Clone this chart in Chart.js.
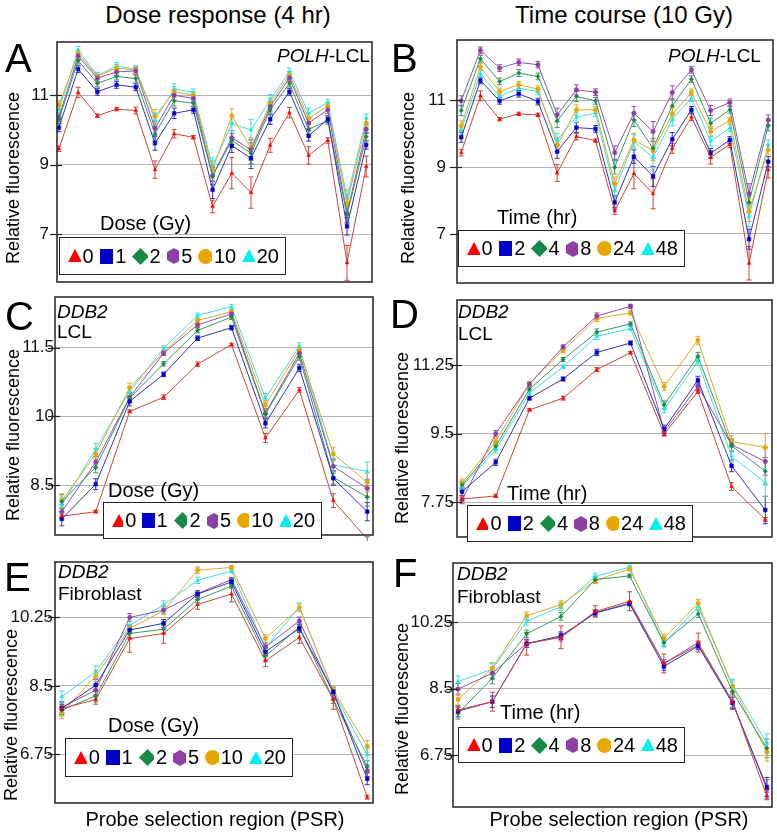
<!DOCTYPE html>
<html lang="en">
  <head>
    <meta charset="UTF-8" />
    <title>POLH and DDB2 probe selection regions</title>
    <script src="https://cdn.jsdelivr.net/npm/chart.js"></script>
    <style>
      body { margin: 0; background: #fff; font-family: "Liberation Sans", Arial, sans-serif; }
      #page { position: relative; width: 777px; height: 836px; overflow: hidden; }
      canvas { position: absolute; }
      .txt { position: absolute; white-space: nowrap; line-height: 1; color: #000; }
      .ytitle { position: absolute; white-space: nowrap; font-size: 18px; line-height: 1;
                transform: translate(-50%, -50%) rotate(-90deg); }
      .legend { position: absolute; background: #fff; border: 1.5px solid #222; box-sizing: border-box;
                display: flex; align-items: center; padding-left: 8px; font-size: 20px; }
      .legend svg { margin-right: 2px; }
      .legend span { margin-right: 6px; }
    </style>
  </head>
  <body>
    <div id="page"></div>
    <script>
      // series keys / legend labels
      const doseLabels = ["0", "1", "2", "5", "10", "20"];
      const timeLabels = ["0", "2", "4", "8", "24", "48"];

      // A: POLH-LCL, dose response (17 PSRs)
      const polhDose0 = [9.46, 11.08, 10.41, 10.6, 10.56, 8.86, 9.89, 9.79, 7.8, 8.76, 8.2, 9.56, 10.5, 9.27, 9.7, 6.18, 8.95];
      const polhDose1 = [10.07, 11.75, 11.1, 11.3, 11.23, 9.62, 10.48, 10.58, 8.28, 9.55, 9.19, 10.31, 11.1, 9.83, 10.31, 7.23, 9.57];
      const polhDose2 = [10.3, 12.0, 11.34, 11.54, 11.48, 9.89, 10.84, 10.77, 8.67, 9.7, 9.33, 10.58, 11.34, 10.02, 10.27, 7.56, 9.81];
      const polhDose5 = [10.37, 12.13, 11.49, 11.67, 11.7, 10.05, 11.0, 10.91, 8.69, 9.78, 9.43, 10.67, 11.5, 10.2, 10.58, 7.6, 10.02];
      const polhDose10 = [10.72, 12.2, 11.54, 11.78, 11.72, 10.39, 11.1, 11.0, 8.86, 10.41, 9.48, 10.77, 11.58, 10.34, 10.69, 7.9, 10.2];
      const polhDose20 = [10.58, 12.3, 11.56, 11.84, 11.75, 10.29, 11.18, 11.08, 8.95, 10.18, 10.0, 10.87, 11.68, 10.48, 10.79, 8.04, 10.34];
      const polhDoseErr0 = [0.08, 0.15, 0.05, 0.05, 0.1, 0.25, 0.12, 0.05, 0.18, 0.45, 0.45, 0.2, 0.15, 0.25, 0.08, 0.5, 0.3];
      const polhDoseErr = [0.12, 0.1, 0.1, 0.1, 0.1, 0.2, 0.15, 0.1, 0.25, 0.2, 0.3, 0.15, 0.1, 0.15, 0.1, 0.25, 0.12];

      // B: POLH-LCL, time course
      const polhTime0 = [9.43, 11.13, 10.43, 10.59, 10.56, 8.82, 9.91, 9.79, 7.69, 8.8, 8.2, 9.56, 10.49, 9.29, 9.68, 6.12, 8.92];
      const polhTime2 = [9.89, 11.59, 10.98, 11.19, 10.96, 9.46, 10.18, 10.14, 7.94, 9.31, 8.72, 9.83, 10.71, 9.41, 9.81, 6.84, 9.16];
      const polhTime4 = [10.69, 12.24, 11.56, 11.81, 11.71, 10.38, 11.11, 10.98, 8.99, 10.41, 9.56, 10.83, 11.63, 10.31, 10.71, 7.94, 10.23];
      const polhTime8 = [10.98, 12.49, 11.96, 12.13, 12.06, 10.56, 11.31, 11.24, 9.43, 10.61, 10.06, 11.23, 11.91, 10.69, 10.93, 8.2, 10.41];
      const polhTime24 = [10.23, 11.99, 11.26, 11.46, 11.33, 9.66, 10.71, 10.71, 8.5, 9.81, 9.49, 10.58, 11.23, 10.06, 10.39, 7.67, 9.51];
      const polhTime48 = [10.11, 11.79, 11.11, 11.36, 11.26, 9.81, 10.49, 10.61, 8.3, 9.76, 9.28, 10.43, 11.06, 9.78, 10.16, 7.52, 9.66];
      const polhTimeErr0 = [0.1, 0.15, 0.05, 0.05, 0.05, 0.25, 0.1, 0.05, 0.1, 0.45, 0.45, 0.15, 0.1, 0.2, 0.1, 0.5, 0.25];
      const polhTimeErr = [0.15, 0.1, 0.1, 0.1, 0.1, 0.2, 0.15, 0.1, 0.2, 0.2, 0.3, 0.2, 0.1, 0.15, 0.1, 0.3, 0.15];

      // C: DDB2 LCL, dose response (10 PSRs)
      const lclDose0 = [7.82, 7.92, 10.11, 10.42, 11.14, 11.57, 9.53, 10.58, 8.16, 7.32];
      const lclDose1 = [7.76, 8.52, 10.33, 10.92, 11.71, 11.94, 9.85, 11.06, 8.65, 7.92];
      const lclDose2 = [8.14, 8.89, 10.4, 11.15, 11.88, 12.17, 10.05, 11.31, 8.67, 8.24];
      const lclDose5 = [7.92, 9.0, 10.42, 11.38, 12.0, 12.24, 10.07, 11.38, 8.91, 8.43];
      const lclDose10 = [8.16, 9.18, 10.63, 11.4, 12.1, 12.29, 10.25, 11.46, 9.18, 8.56];
      const lclDose20 = [8.07, 9.29, 10.55, 11.49, 12.21, 12.4, 10.4, 11.53, 8.94, 8.8];
      const lclDoseErr0 = [0.03, 0.03, 0.03, 0.05, 0.05, 0.03, 0.1, 0.05, 0.15, 0.05];
      const lclDoseErr = [0.15, 0.12, 0.1, 0.05, 0.05, 0.05, 0.1, 0.08, 0.15, 0.2];

      // D: DDB2 LCL, time course
      const lclTime0 = [7.83, 7.91, 10.11, 10.41, 11.14, 11.57, 9.49, 10.58, 8.15, 7.31];
      const lclTime2 = [8.02, 8.77, 10.41, 10.9, 11.58, 11.82, 9.62, 10.87, 8.68, 7.55];
      const lclTime4 = [8.19, 9.18, 10.64, 11.4, 12.1, 12.31, 10.24, 11.48, 9.19, 8.54];
      const lclTime8 = [7.81, 9.5, 10.77, 11.72, 12.51, 12.76, 9.56, 10.71, 9.22, 8.79];
      const lclTime24 = [8.24, 9.3, 10.78, 11.63, 12.45, 12.59, 10.71, 11.89, 9.3, 9.15];
      const lclTime48 = [8.15, 9.09, 10.54, 11.21, 11.99, 12.19, 10.13, 11.35, 8.92, 8.25];
      const lclTimeErr0 = [0.05, 0.04, 0.03, 0.05, 0.05, 0.03, 0.05, 0.05, 0.1, 0.05];
      const lclTimeErr = [0.1, 0.08, 0.05, 0.05, 0.08, 0.05, 0.1, 0.1, 0.15, 0.35];

      // E: DDB2 fibroblast, dose response
      const fibDose0 = [7.92, 8.15, 9.71, 9.84, 10.58, 10.85, 9.14, 9.74, 8.15, 5.65];
      const fibDose1 = [7.92, 8.52, 9.93, 10.1, 10.85, 11.16, 9.37, 9.97, 8.35, 6.12];
      const fibDose2 = [7.88, 8.24, 9.84, 9.95, 10.71, 11.05, 9.26, 10.01, 8.15, 6.43];
      const fibDose5 = [7.95, 8.39, 10.25, 10.44, 10.86, 11.22, 9.5, 10.16, 8.31, 6.33];
      const fibDose10 = [7.81, 8.75, 9.97, 10.42, 11.46, 11.53, 9.71, 10.5, 8.39, 6.95];
      const fibDose20 = [8.22, 8.86, 10.05, 10.57, 11.2, 11.44, 9.46, 10.52, 8.35, 6.73];
      const fibDoseErr0 = [0.1, 0.12, 0.35, 0.25, 0.12, 0.2, 0.15, 0.15, 0.25, 0.05];
      const fibDoseErr = [0.15, 0.15, 0.1, 0.1, 0.08, 0.05, 0.1, 0.1, 0.1, 0.15];

      // F: DDB2 fibroblast, time course
      const fibTime0 = [7.94, 8.16, 9.69, 9.86, 10.54, 10.81, 9.17, 9.72, 8.16, 5.67];
      const fibTime2 = [7.91, 8.16, 9.69, 9.9, 10.5, 10.74, 9.09, 9.63, 8.12, 5.91];
      const fibTime4 = [7.85, 8.78, 9.95, 10.41, 11.38, 11.48, 9.72, 10.48, 8.42, 6.93];
      const fibTime8 = [8.49, 8.91, 9.7, 9.86, 10.51, 10.76, 9.17, 9.66, 8.16, 5.85];
      const fibTime24 = [8.22, 9.04, 10.43, 10.72, 11.36, 11.66, 9.84, 10.76, 8.56, 6.84];
      const fibTime48 = [8.69, 9.02, 10.28, 10.67, 11.47, 11.71, 9.7, 10.67, 8.6, 7.06];
      const fibTimeErr0 = [0.1, 0.25, 0.3, 0.3, 0.15, 0.25, 0.25, 0.25, 0.2, 0.1];
      const fibTimeErr = [0.15, 0.15, 0.1, 0.1, 0.08, 0.05, 0.1, 0.1, 0.15, 0.25];

      // y tick labels per panel
      const ticksPolh = [7, 9, 11];
      const ticksLclDose = [8.5, 10, 11.5];
      const ticksLclTime = [7.75, 9.5, 11.25];
      const ticksFib = [6.75, 8.5, 10.25];

      const markColors = ["#ff0000", "#0000c8", "#178a47", "#8e3fa5", "#e6a800", "#00f0f0"];
      const lineColors = ["#cc4436", "#3030c0", "#3a9860", "#9050aa", "#e0a82a", "#40dce4"];
      const pointStyles = ["triangle", "rect", "rectRot", "circle", "circle", "triangle"];

      const panels = [
        { id: "A", box: [57, 42, 372, 282], y: [5.63, 12.53], x: [-0.1, 16.3], ticks: ticksPolh, tickPad: 8,
          series: [polhDose0, polhDose1, polhDose2, polhDose5, polhDose10, polhDose20], err0: polhDoseErr0, err: polhDoseErr,
          keys: doseLabels, head: "Dose (Gy)", headPos: [100, 230], leg: [59, 237, 227, 38],
          letter: [5, 72], ytitle: [13, 178] },
        { id: "B", box: [457, 40, 773, 283], y: [5.53, 12.8], x: [-0.22, 16.25], ticks: ticksPolh, tickPad: 11,
          series: [polhTime0, polhTime2, polhTime4, polhTime8, polhTime24, polhTime48], err0: polhTimeErr0, err: polhTimeErr,
          keys: timeLabels, head: "Time (hr)", headPos: [497, 224], leg: [458, 230, 227, 37],
          letter: [391, 72], ytitle: [408, 178] },
        { id: "C", box: [55, 297, 373, 535], y: [7.41, 12.61], x: [-0.2, 9.17], ticks: ticksLclDose, tickPad: 1,
          series: [lclDose0, lclDose1, lclDose2, lclDose5, lclDose10, lclDose20], err0: lclDoseErr0, err: lclDoseErr,
          keys: doseLabels, head: "Dose (Gy)", headPos: [108, 497], leg: [103, 502, 219, 37],
          letter: [5, 330], ytitle: [13, 435] },
        { id: "D", box: [457, 300, 772, 537], y: [6.86, 12.92], x: [-0.15, 9.2], ticks: ticksLclTime, tickPad: 3,
          series: [lclTime0, lclTime2, lclTime4, lclTime8, lclTime24, lclTime48], err0: lclTimeErr0, err: lclTimeErr,
          keys: timeLabels, head: "Time (hr)", headPos: [507, 500], leg: [467, 505, 226, 37],
          letter: [390, 328], ytitle: [402, 438] },
        { id: "E", box: [55, 562, 373, 803], y: [5.5, 11.67], x: [-0.2, 9.17], ticks: ticksFib, tickPad: 2,
          series: [fibDose0, fibDose1, fibDose2, fibDose5, fibDose10, fibDose20], err0: fibDoseErr0, err: fibDoseErr,
          keys: doseLabels, head: "Dose (Gy)", headPos: [108, 732], leg: [65, 738, 228, 39],
          letter: [4, 591], ytitle: [11, 715] },
        { id: "F", box: [453, 563, 772, 807], y: [5.38, 11.82], x: [-0.146, 9.15], ticks: ticksFib, tickPad: 0,
          series: [fibTime0, fibTime2, fibTime4, fibTime8, fibTime24, fibTime48], err0: fibTimeErr0, err: fibTimeErr,
          keys: timeLabels, head: "Time (hr)", headPos: [500, 719], leg: [458, 727, 227, 36],
          letter: [393, 587], ytitle: [402, 709] },
      ];

      const page = document.getElementById("page");

      // text placed by baseline (Liberation Sans metrics)
      function addText(str, x, baseline, size, extra) {
        const d = document.createElement("div");
        d.className = "txt";
        d.style.fontSize = size + "px";
        d.style.left = x + "px";
        d.style.top = (baseline - 0.8465 * size) + "px";
        d.innerHTML = str;
        if (extra) Object.assign(d.style, extra);
        page.appendChild(d);
        return d;
      }

      function marker(i) {
        const c = markColors[i];
        const shapes = [
          `<svg width="14" height="14"><polygon points="7,0 14,13 0,13" fill="${c}"/></svg>`,
          `<svg width="15" height="15"><rect width="15" height="15" fill="${c}"/></svg>`,
          `<svg width="17" height="17"><polygon points="8.5,0 17,8.5 8.5,17 0,8.5" fill="${c}"/></svg>`,
          `<svg width="14" height="16"><polygon points="7,0 14,4 14,12 7,16 0,12 0,4" fill="${c}"/></svg>`,
          `<svg width="15" height="15"><circle cx="7.5" cy="7.5" r="7.5" fill="${c}"/></svg>`,
          `<svg width="14" height="14"><polygon points="7,0 14,13 0,13" fill="${c}"/></svg>`,
        ];
        return shapes[i];
      }

      // error bars drawn from each dataset's errors
      const errorBars = {
        id: "errorBars",
        beforeDatasetsDraw(chart) {
          const ctx = chart.ctx;
          const ys = chart.scales.y;
          chart.data.datasets.forEach((ds, di) => {
            const meta = chart.getDatasetMeta(di);
            ctx.save();
            ctx.strokeStyle = ds.borderColor;
            ctx.lineWidth = 1;
            meta.data.forEach((pt, i) => {
              const v = ds.data[i].y, e = ds.errs[i];
              const y1 = ys.getPixelForValue(v - e), y2 = ys.getPixelForValue(v + e);
              ctx.beginPath();
              ctx.moveTo(pt.x, y1); ctx.lineTo(pt.x, y2);
              ctx.moveTo(pt.x - 2.5, y1); ctx.lineTo(pt.x + 2.5, y1);
              ctx.moveTo(pt.x - 2.5, y2); ctx.lineTo(pt.x + 2.5, y2);
              ctx.stroke();
            });
            ctx.restore();
          });
        },
      };

      // plot frame and tick marks crossing it
      const frame = {
        id: "frame",
        afterDraw(chart) {
          const { ctx, chartArea: a } = chart;
          ctx.save();
          ctx.strokeStyle = "#222";
          ctx.lineWidth = 1.5;
          ctx.strokeRect(a.left, a.top, a.right - a.left, a.bottom - a.top);
          ctx.lineWidth = 1.2;
          chart.scales.y.ticks.forEach((t) => {
            const y = Math.round(chart.scales.y.getPixelForValue(t.value)) + 0.5;
            ctx.beginPath();
            ctx.moveTo(a.left - 7, y);
            ctx.lineTo(a.left + 5, y);
            ctx.stroke();
          });
          ctx.restore();
        },
      };

      const AXW = 60, PAD = 6;

      panels.forEach((p) => {
        const [l, t, r, b] = p.box;
        const cv = document.createElement("canvas");
        const w = AXW + (r - l) + PAD, h = (b - t) + 2 * PAD;
        cv.width = w; cv.height = h;
        cv.style.left = (l - AXW) + "px";
        cv.style.top = (t - PAD) + "px";
        page.appendChild(cv);

        const datasets = p.series.map((vals, si) => ({
          label: p.keys[si],
          data: vals.map((v, i) => ({ x: i, y: v })),
          errs: si === 0 ? p.err0 : p.err,
          borderColor: lineColors[si],
          borderWidth: 1,
          pointStyle: pointStyles[si],
          pointRadius: si === 1 ? 2.6 : 2.2,
          pointBackgroundColor: markColors[si],
          pointBorderColor: markColors[si],
          pointBorderWidth: 0.5,
          tension: 0,
        }));

        new Chart(cv.getContext("2d"), {
          type: "line",
          data: { datasets },
          options: {
            responsive: false,
            animation: false,
            devicePixelRatio: 1,
            layout: { padding: { top: PAD, bottom: PAD, left: 0, right: PAD } },
            plugins: { legend: { display: false }, tooltip: { enabled: false } },
            scales: {
              x: { type: "linear", display: false, min: p.x[0], max: p.x[1] },
              y: {
                type: "linear",
                min: p.y[0], max: p.y[1],
                afterBuildTicks: (s) => { s.ticks = p.ticks.map((v) => ({ value: v })); },
                afterFit: (s) => { s.width = AXW; s.paddingTop = 0; s.paddingBottom = 0; },
                border: { display: false },
                grid: { color: "#b4b4b4", lineWidth: 1, drawTicks: false },
                ticks: {
                  padding: p.tickPad,
                  color: "#111",
                  font: { family: "'Liberation Sans', Arial, sans-serif", size: 17 },
                  callback: (v) => String(v),
                },
              },
            },
          },
          plugins: [errorBars, frame],
        });

        // panel letter, y title, legend heading and box
        addText(p.id, p.letter[0], p.letter[1], 40);
        const yt = document.createElement("div");
        yt.className = "ytitle";
        yt.style.left = p.ytitle[0] + "px";
        yt.style.top = p.ytitle[1] + "px";
        yt.textContent = "Relative fluorescence";
        page.appendChild(yt);

        addText(p.head, p.headPos[0], p.headPos[1], 20);
        const lg = document.createElement("div");
        lg.className = "legend";
        Object.assign(lg.style, { left: p.leg[0] + "px", top: p.leg[1] + "px", width: p.leg[2] + "px", height: p.leg[3] + "px" });
        lg.innerHTML = p.keys.map((k, i) => marker(i) + `<span>${k}</span>`).join("");
        page.appendChild(lg);
      });

      // column headings and inside labels
      addText("Dose response (4 hr)", 218, 23, 24, { transform: "translateX(-50%)" });
      addText("Time course (10 Gy)", 624, 23, 24, { transform: "translateX(-50%)" });
      addText("<i>POLH</i>-LCL", 277, 62, 19);
      addText("<i>POLH</i>-LCL", 668, 62, 19);
      addText("<i>DDB2</i>", 57, 318, 19);
      addText("LCL", 57, 338, 19);
      addText("<i>DDB2</i>", 458, 318, 19);
      addText("LCL", 458, 340, 19);
      addText("<i>DDB2</i>", 58, 578, 19);
      addText("Fibroblast", 58, 600, 19);
      addText("<i>DDB2</i>", 457, 580, 19);
      addText("Fibroblast", 457, 603, 19);
      addText("Probe selection region (PSR)", 215, 826, 20, { transform: "translateX(-50%)" });
      addText("Probe selection region (PSR)", 619, 826, 20, { transform: "translateX(-50%)" });
    </script>
  </body>
</html>
